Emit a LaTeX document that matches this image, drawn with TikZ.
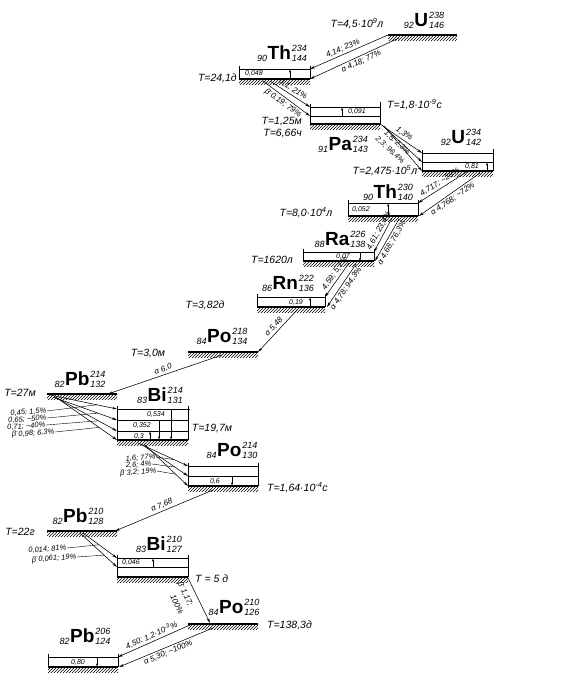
\documentclass[tikz,border=0pt]{standalone}
\usepackage{fontspec}
\setmainfont{Liberation Sans}
\usepackage{tikz}
\usetikzlibrary{arrows.meta, patterns, calc}
\newcommand{\nuc}[4]{{\fontsize{9}{10}\selectfont\itshape\raisebox{-2pt}{#1}}\kern0.5pt{\fontsize{19}{19}\selectfont\bfseries #2}\kern1pt{\fontsize{9}{10}\selectfont\itshape\raisebox{-2pt}{\begin{tabular}[b]{@{}l@{}}#3\\#4\end{tabular}}}}
\newcommand{\ground}[3]{%
  \fill[hatchfill] (#1,#3) rectangle (#2,#3+5);
  \draw[gnd] (#1,#3) -- (#2,#3);}
\tikzset{
  lvl/.style={line width=0.6pt},
  gnd/.style={line width=2pt},
  hatchfill/.style={pattern=north east lines},
  arr/.style={-{Stealth[length=5pt, width=2.6pt]}, line width=0.55pt},
  gam/.style={-{Stealth[length=3pt, width=2pt]}, line width=0.5pt},
  ldr/.style={line width=0.4pt},
  nucl/.style={inner sep=0pt},
  hl/.style={font=\fontsize{10.5}{12}\selectfont\itshape, inner sep=0pt},
  en/.style={font=\fontsize{8}{9}\selectfont\itshape, inner sep=2pt},
  ens/.style={font=\fontsize{7.5}{9}\selectfont\itshape, inner sep=0.5pt},
  lv/.style={font=\fontsize{7}{8}\selectfont\itshape, inner sep=0pt},
}

\begin{document}
\begin{tikzpicture}[x=1pt, y=-1pt]
  \useasboundingbox (0,0) rectangle (579,694);
  % U-238
  \ground{388}{457}{35}
  \node[nucl] (u238) at (424,21) {\nuc{92}{U}{238}{146}};
  \node[hl] (tu238) at (357,24) {T=4,5·10\textsuperscript{9}л};
  \coordinate (u238a) at (388,35);
  \coordinate (u238b) at (399,38);
  % Th-234
  \draw[lvl] (239,66) -- (239,79) (310,66) -- (310,79) (239,69) -- (310,69);
  \ground{239}{310}{79}
  \node[lv] (th234e) at (254,74) {0,048};
  \draw[gam] (290,79) -- (290,69.5);
  \node[nucl] (th234) at (282,54) {\nuc{90}{Th}{234}{144}};
  \node[hl, anchor=east] (tth234) at (237,78) {T=24,1д};
  \coordinate (th234t) at (310,69);
  \coordinate (th234g) at (310,79);
  \draw[arr] (u238a) -- node[en, sloped, above, pos=0.55] {4,14; 23\%} (th234t);
  \draw[arr] (u238b) -- node[en, sloped, below, pos=0.45] {α 4,18; 77\%} (th234g);
  % Pa-234
  \draw[lvl] (310,104) -- (310,124) (380,102) -- (380,124) (310,107) -- (380,107) (310,116) -- (380,116);
  \ground{310}{380}{124}
  \node[lv] (pa234e) at (357,111.5) {0,091};
  \draw[gam] (342,116) -- (342,107.5);
  \node[nucl] (pa234) at (343,145) {\nuc{91}{Pa}{234}{143}};
  \node[hl, anchor=west] (tpa234a) at (387,105) {T=1,8·10\textsuperscript{-9}с};
  \node[hl, anchor=east] (tpa234b) at (302,122) {T=1,25м};
  \node[hl, anchor=east] (tpa234c) at (302,134) {T=6,66ч};
  \coordinate (th234s1) at (270,81);
  \coordinate (th234s2) at (263,81);
  \coordinate (pa234t) at (310,107);
  \coordinate (pa234m) at (310,116);
  \draw[arr] (th234s1) -- node[en, sloped, above] {0,1; 21\%} (pa234t);
  \draw[arr] (th234s2) -- node[en, sloped, below] {β\textsuperscript{-}0,19; 79\%} (pa234m);
  % U-234
  \draw[lvl] (422,150) -- (422,171) (493,149) -- (493,171) (422,153) -- (493,153) (422,162) -- (493,162);
  \ground{422}{493}{171}
  \node[lv] (u234e) at (472,166.5) {0,81};
  \draw[gam] (487,171) -- (487,162.5);
  \node[nucl] (u234) at (461,138) {\nuc{92}{U}{234}{142}};
  \node[hl] (tu234) at (385,171) {T=2,475·10\textsuperscript{5}л};
  \coordinate (pa234g1) at (380,124);
  \coordinate (pa234g2) at (382,125);
  \coordinate (pa234g3) at (384,126);
  \coordinate (u234t) at (422,153);
  \coordinate (u234m) at (422,162);
  \coordinate (u234g) at (422,171);
  \draw[arr] (pa234g1) -- node[en, sloped, above] {1,3\%} (u234t);
  \draw[arr] (pa234g2) -- (u234m);
  \draw[arr] (pa234g3) -- (u234g);
  \node[ens, rotate=-42] (pal1) at (397,143) {1,5; 2,3\%};
  \node[ens, rotate=-42] (pal2) at (390,150) {2,3; 96,4\%};
  % Th-230
  \draw[lvl] (348,200) -- (348,216) (418,200) -- (418,216) (348,203) -- (418,203);
  \ground{348}{418}{216}
  \node[lv] (th230e) at (361,209.5) {0,052};
  \draw[gam] (388,216) -- (388,203.5);
  \node[nucl] (th230) at (388,193) {\nuc{90}{Th}{230}{140}};
  \node[hl] (tth230) at (306,213) {T=8,0·10\textsuperscript{4}л};
  \coordinate (u234s1) at (468,171);
  \coordinate (u234s2) at (480,173);
  \coordinate (th230t) at (418,203);
  \coordinate (th230g) at (419,216);
  \draw[arr] (u234s1) -- node[en, sloped, above] {4,717; \textasciitilde28\%} (th230t);
  \draw[arr] (u234s2) -- node[en, sloped, below] {α 4,768; \textasciitilde72\%} (th230g);
  % Ra-226
  \draw[lvl] (303,249) -- (303,261) (374,249) -- (374,261) (303,252) -- (374,252);
  \ground{303}{374}{261}
  \node[lv] (ra226e) at (343,256.5) {0,07};
  \draw[gam] (360,252.5) -- (360,261);
  \node[nucl] (ra226) at (340,240) {\nuc{88}{Ra}{226}{138}};
  \node[hl] (tra226) at (272,260) {T=1620л};
  \coordinate (th230s1) at (392,218);
  \coordinate (th230s2) at (399,219);
  \coordinate (ra226t) at (374,252);
  \coordinate (ra226g) at (375,261);
  \draw[arr] (th230s1) -- node[en, sloped, above, pos=0.45] {4,61; 23,4\%} (ra226t);
  \draw[arr] (th230s2) -- node[en, sloped, below] {α 4,68; 76,3\%} (ra226g);
  % Rn-222
  \draw[lvl] (257,294) -- (257,307) (325,294) -- (325,307) (257,297) -- (325,297);
  \ground{257}{325}{307}
  \node[lv] (rn222e) at (296,302) {0,19};
  \draw[gam] (310,307) -- (310,297.5);
  \node[nucl] (rn222) at (288,284) {\nuc{86}{Rn}{222}{136}};
  \node[hl] (trn222) at (205,305) {T=3,82д};
  \coordinate (ra226s1) at (349,263);
  \coordinate (ra226s2) at (356,264);
  \coordinate (rn222t) at (325,297);
  \coordinate (rn222g) at (327,307);
  \draw[arr] (ra226s1) -- node[en, sloped, above, pos=0.4] {4,59; 5,7\%} (rn222t);
  \draw[arr] (ra226s2) -- node[en, sloped, below] {α 4,78; 94,3\%} (rn222g);
  % Po-218
  \ground{188}{258}{352}
  \node[nucl] (po218) at (222,337) {\nuc{84}{Po}{218}{134}};
  \node[hl] (tpo218) at (148,353) {T=3,0м};
  \coordinate (rn222s) at (298,309);
  \coordinate (po218a) at (258,352);
  \coordinate (po218s) at (222,355);
  \draw[arr] (rn222s) -- node[en, sloped, above] {α 5,48} (po218a);
  % Pb-214
  \ground{47}{117}{394}
  \node[nucl] (pb214) at (80,380) {\nuc{82}{Pb}{214}{132}};
  \node[hl] (tpb214) at (20,393) {T=27м};
  \coordinate (pb214a) at (108,394);
  \draw[arr] (po218s) -- node[en, sloped, above] {α 6,0} (pb214a);
  % Bi-214
  \draw[lvl] (117,406) -- (117,440) (188,406) -- (188,440);
  \draw[lvl] (117,409) -- (190,409) (117,420) -- (188,420) (117,431) -- (188,431);
  \ground{117}{188}{440}
  \node[lv] (bi214e1) at (156,414.5) {0,534};
  \node[lv] (bi214e2) at (142,425.5) {0,352};
  \node[lv] (bi214e3) at (139,436) {0,3};
  \draw[gam] (150,440) -- (150,431.5);
  \draw[gam] (159,420) -- (159,439.5);
  \draw[gam] (171,409) -- (171,439.5);
  \node[nucl] (bi214) at (160,396) {\nuc{83}{Bi}{214}{131}};
  \node[hl] (tbi214) at (212,428) {T=19,7м};
  \coordinate (pb214s1) at (50,395);
  \coordinate (pb214s2) at (53,397);
  \coordinate (pb214s3) at (55,397);
  \coordinate (pb214s4) at (57,398);
  \coordinate (bi214l1) at (117,409);
  \coordinate (bi214l2) at (117,420);
  \coordinate (bi214l3) at (117,431);
  \coordinate (bi214l4) at (117,440);
  \draw[arr] (pb214s1) -- coordinate[pos=0.7] (pbm1) (bi214l1);
  \draw[arr] (pb214s2) -- coordinate[pos=0.7] (pbm2) (bi214l2);
  \draw[arr] (pb214s3) -- coordinate[pos=0.7] (pbm3) (bi214l3);
  \draw[arr] (pb214s4) -- coordinate[pos=0.7] (pbm4) (bi214l4);
  \node[ens, anchor=east, rotate=4] (pbt1) at (47,411) {0,45; 1,5\%};
  \node[ens, anchor=east, rotate=4] (pbt2) at (47,418) {0,65; \textasciitilde50\%};
  \node[ens, anchor=east, rotate=4] (pbt3) at (46,425) {0,71; \textasciitilde40\%};
  \node[ens, anchor=east, rotate=4] (pbt4) at (55,432) {β\textsuperscript{-}0,98; 6,3\%};
  \draw[ldr] (pbt1.east) -- (pbm1);
  \draw[ldr] (pbt2.east) -- (pbm2);
  \draw[ldr] (pbt3.east) -- (pbm3);
  \draw[ldr] (pbt4.east) -- (pbm4);
  % Po-214
  \draw[lvl] (188,463) -- (188,486) (258,463) -- (258,486) (188,466) -- (258,466) (188,476) -- (258,476);
  \ground{188}{258}{486}
  \node[lv] (po214e) at (215,481) {0,6};
  \draw[gam] (232,476) -- (232,485.5);
  \node[nucl] (po214) at (232,451) {\nuc{84}{Po}{214}{130}};
  \node[hl, anchor=west] (tpo214) at (267,488) {T=1,64·10\textsuperscript{-4}с};
  \coordinate (bi214s1) at (138,443);
  \coordinate (bi214s2) at (141,444);
  \coordinate (bi214s3) at (144,444);
  \coordinate (po214l1) at (188,466);
  \coordinate (po214l2) at (188,476);
  \coordinate (po214l3) at (188,486);
  \draw[arr] (bi214s1) -- coordinate[pos=0.72] (bim1) (po214l1);
  \draw[arr] (bi214s2) -- coordinate[pos=0.72] (bim2) (po214l2);
  \draw[arr] (bi214s3) -- coordinate[pos=0.72] (bim3) (po214l3);
  \node[ens, anchor=east, rotate=4] (bit1) at (156,457) {1,6; 77\%};
  \node[ens, anchor=east, rotate=4] (bit2) at (152,464) {2,6; 4\%};
  \node[ens, anchor=east, rotate=4] (bit3) at (157,471) {β\textsuperscript{-}3,2; 19\%};
  \draw[ldr] (bit1.east) -- (bim1);
  \draw[ldr] (bit2.east) -- (bim2);
  \draw[ldr] (bit3.east) -- (bim3);
  % Pb-210
  \ground{47}{117}{531}
  \node[nucl] (pb210) at (78,517) {\nuc{82}{Pb}{210}{128}};
  \node[hl] (tpb210) at (20,532) {T=22г};
  \coordinate (po214s) at (213,490);
  \coordinate (pb210a) at (115,531);
  \draw[arr] (po214s) -- node[en, sloped, above] {α 7,68} (pb210a);
  % Bi-210
  \draw[lvl] (117,555) -- (117,577) (188,555) -- (188,577) (117,558) -- (188,558) (117,567) -- (188,567);
  \ground{117}{188}{577}
  \node[lv] (bi210e) at (131,562.5) {0,046};
  \draw[gam] (153,567) -- (153,558.5);
  \node[nucl] (bi210) at (159,545) {\nuc{83}{Bi}{210}{127}};
  \node[hl, anchor=west] (tbi210) at (195,579) {T = 5 д};
  \coordinate (pb210s1) at (83,533);
  \coordinate (pb210s2) at (80,533);
  \coordinate (bi210t) at (117,558);
  \coordinate (bi210m) at (117,567);
  \draw[arr] (pb210s1) -- coordinate[pos=0.47] (pbb1) (bi210t);
  \draw[arr] (pb210s2) -- coordinate[pos=0.65] (pbb2) (bi210m);
  \node[ens, anchor=east, rotate=4] (pbbt1) at (67,548) {0,014; 81\%};
  \node[ens, anchor=east, rotate=4] (pbbt2) at (77,557) {β\textsuperscript{-}0,061; 19\%};
  \draw[ldr] (pbbt1.east) -- (pbb1);
  \draw[ldr] (pbbt2.east) -- (pbb2);
  % Po-210
  \ground{188}{258}{624}
  \node[nucl] (po210) at (234,608) {\nuc{84}{Po}{210}{126}};
  \node[hl, anchor=west] (tpo210) at (267,625) {T=138,3д};
  \coordinate (bi210s) at (188,578);
  \coordinate (po210a) at (210,623);
  \draw[arr] (bi210s) -- (po210a);
  \node[en, rotate=-64] (bpl1) at (185,594) {β\textsuperscript{-}1,17;};
  \node[en, rotate=-64] (bpl2) at (177,604) {100\%};
  % Pb-206
  \draw[lvl] (48,654) -- (48,667) (118,654) -- (118,667) (48,657) -- (118,657);
  \ground{48}{118}{667}
  \node[lv] (pb206e) at (78,662) {0,80};
  \draw[gam] (97,657) -- (97,666.5);
  \node[nucl] (pb206) at (85,637) {\nuc{82}{Pb}{206}{124}};
  \coordinate (po210s1) at (190,625);
  \coordinate (po210s2) at (213,628);
  \coordinate (pb206t) at (118,657);
  \coordinate (pb206g) at (119,667);
  \draw[arr] (po210s1) -- node[en, sloped, above] {4,50; 1,2·10\textsuperscript{-3}\%} (pb206t);
  \draw[arr] (po210s2) -- node[en, sloped, below] {α 5,30; \textasciitilde100\%} (pb206g);
\end{tikzpicture}
\end{document}
